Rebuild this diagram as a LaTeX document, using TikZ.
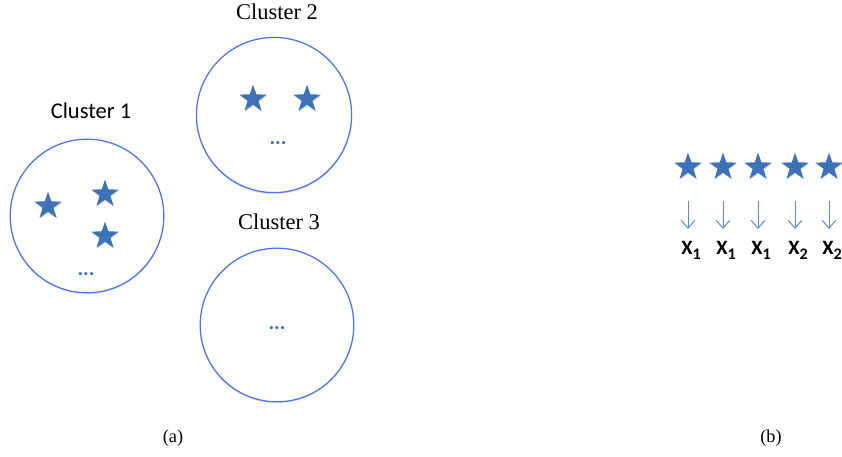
\documentclass[tikz,border=0pt]{standalone}
\usepackage{fontspec}
\setmainfont{Liberation Serif}
\newfontfamily\calibri{Carlito}
\usetikzlibrary{shapes.geometric,arrows.meta,shadows}
\usepackage{xcolor}
\definecolor{starblue}{HTML}{3D71B8}
\definecolor{ringblue}{HTML}{4F73EE}
\definecolor{arrowblue}{HTML}{5A8BCB}

\begin{document}
\begin{tikzpicture}[x=0.025cm, y=-0.025cm,
	cluster/.style={draw=ringblue, line width=0.9pt, circle, fill=white, inner sep=0pt,
		drop shadow={opacity=0.18, shadow xshift=0pt, shadow yshift=-1.2pt}},
	item/.style={star, star points=5, star point ratio=2.55, fill=starblue, inner sep=0pt,
		minimum size=0.72cm, drop shadow={opacity=0.3, shadow xshift=0.4pt, shadow yshift=-0.8pt}},
	more/.style={text=starblue, inner sep=0pt, font=\calibri\bfseries\fontsize{15}{15}\selectfont},
	title/.style={font=\fontsize{16}{18}\selectfont}]
	\useasboundingbox (0,0) rectangle (842,456);

	% (a) the three clusters
	\node (c1) [cluster, minimum size=3.84cm] at (87, 216) {};
	\node (c2) [cluster, minimum size=3.88cm] at (274, 115) {};
	\node (c3) [cluster, minimum size=3.84cm] at (277, 325) {};
	\node (t1) [title, font=\calibri\fontsize{16}{18}\selectfont] at (91, 111) {Cluster 1};
	\node (t2) [title] at (277, 12) {Cluster 2};
	\node (t3) [title] at (279, 222) {Cluster 3};

	\node (a1) [item] at (48, 206) {};
	\node (a2) [item] at (105, 194) {};
	\node (a3) [item] at (105, 236) {};
	\node (m1) [more, anchor=base] at (86, 275) {...};

	\node (b1) [item] at (253, 99) {};
	\node (b2) [item] at (307, 99) {};
	\node (m2) [more, anchor=base] at (278, 144) {...};

	\node (m3) [more, anchor=base] at (277, 329) {...};

	% (b) objects and their labels
	\foreach \i/\x/\k in {1/688/1, 2/723/1, 3/758/1, 4/795/2, 5/829/2} {
		\node (s\i) [item] at (\x, 167) {};
		\node (x\i) [anchor=north, inner sep=0pt, font=\calibri\bfseries\fontsize{14.5}{16}\selectfont]
			at (\x+3, 241) {X\raisebox{-0.55ex}{\fontsize{11.5}{12}\selectfont\k}};
		\draw[arrowblue, line width=0.7pt, -{Straight Barb[length=0.2cm, width=0.34cm]},
			shorten <=0.7cm, shorten >=0.3cm] (s\i) -- (s\i |- x\i.north);
	}

	\node (la) [font=\fontsize{13}{15}\selectfont] at (173, 438) {(a)};
	\node (lb) [font=\fontsize{13}{15}\selectfont] at (771, 438) {(b)};
\end{tikzpicture}
\end{document}
